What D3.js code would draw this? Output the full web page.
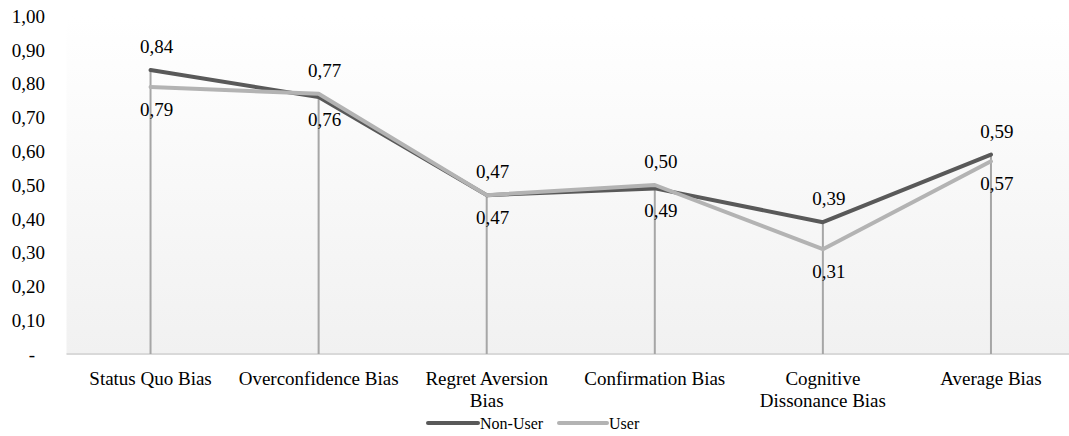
<!DOCTYPE html>
<html>
<head>
<meta charset="utf-8">
<script src="https://cdn.jsdelivr.net/npm/d3@7"></script>
<style>
  html, body { margin: 0; padding: 0; background: #ffffff; }
  svg { display: block; }
  text { font-family: "Liberation Serif", "Tinos", "Times New Roman", "DejaVu Serif", "Noto Serif", serif; fill: #000000; }
</style>
</head>
<body>
<svg id="chart" width="1069" height="436"></svg>
<script>
// Bias scores by investor group
const categories = [
  "Status Quo Bias",
  "Overconfidence Bias",
  "Regret Aversion Bias",
  "Confirmation Bias",
  "Cognitive Dissonance Bias",
  "Average Bias"
];
// Line breaks used for the category axis labels
const categoryLabelLines = [
  ["Status Quo Bias"],
  ["Overconfidence Bias"],
  ["Regret Aversion", "Bias"],
  ["Confirmation Bias"],
  ["Cognitive", "Dissonance Bias"],
  ["Average Bias"]
];
const nonUserValues = [0.84, 0.76, 0.47, 0.49, 0.39, 0.59];
const userValues    = [0.79, 0.77, 0.47, 0.50, 0.31, 0.57];
const seriesNames   = ["Non-User", "User"];
const yTickValues   = [0, 0.1, 0.2, 0.3, 0.4, 0.5, 0.6, 0.7, 0.8, 0.9, 1.0];
const yTickLabels   = ["-", "0,10", "0,20", "0,30", "0,40", "0,50", "0,60", "0,70", "0,80", "0,90", "1,00"];

const W = 1069, H = 436;
const plot = { left: 66.5, right: 1075, top: 16, bottom: 354 };
const colors = { "Non-User": "#595959", "User": "#b3b3b3" };

const svg = d3.select("#chart");

const x = d3.scaleBand().domain(categories).range([plot.left, plot.right]).padding(0);
const y = d3.scaleLinear().domain([0, 1]).range([plot.bottom, plot.top]);
const cx = c => x(c) + x.bandwidth() / 2;

// plot-area fill: white fading to light grey
const defs = svg.append("defs");
const grad = defs.append("linearGradient")
  .attr("id", "plotFill").attr("x1", 0).attr("y1", 0).attr("x2", 0).attr("y2", 1);
grad.append("stop").attr("offset", "0%").attr("stop-color", "#ffffff");
grad.append("stop").attr("offset", "100%").attr("stop-color", "#f1f1f1");

svg.append("rect")
  .attr("x", plot.left).attr("y", plot.top)
  .attr("width", W - plot.left).attr("height", plot.bottom - plot.top)
  .attr("fill", "url(#plotFill)");

// category baseline
svg.append("line")
  .attr("x1", plot.left).attr("x2", W)
  .attr("y1", y(0)).attr("y2", y(0))
  .attr("stroke", "#d9d9d9").attr("stroke-width", 2);

// value axis
const yAxis = d3.axisLeft(y)
  .tickValues(yTickValues)
  .tickFormat((d, i) => yTickLabels[i])
  .tickSize(0).tickPadding(0);
const yg = svg.append("g").attr("transform", "translate(45,0)").call(yAxis);
yg.attr("font-family", null).attr("font-size", null);
yg.select(".domain").remove();
yg.selectAll("text")
  .attr("font-size", 19)
  .attr("fill", "#000")
  .attr("dy", "0.33em")
  .attr("dx", (d, i) => yTickLabels[i] === "-" ? -10 : 0);

// category labels
const xg = svg.append("g");
categories.forEach((c, i) => {
  const t = xg.append("text")
    .attr("x", cx(c)).attr("y", 384.5)
    .attr("text-anchor", "middle")
    .attr("font-size", 19);
  categoryLabelLines[i].forEach((ln, j) => {
    t.append("tspan").attr("x", cx(c)).attr("dy", j === 0 ? 0 : 22).text(ln);
  });
});

const rows = categories.map((c, i) => ({
  cat: c,
  vals: [
    { series: "Non-User", v: nonUserValues[i], order: 0 },
    { series: "User", v: userValues[i], order: 1 }
  ]
}));

// drop lines from the highest point of each category
svg.append("g").selectAll("line")
  .data(rows).join("line")
  .attr("x1", d => cx(d.cat)).attr("x2", d => cx(d.cat))
  .attr("y1", d => y(d3.max(d.vals, v => v.v)))
  .attr("y2", y(0))
  .attr("stroke", "#a6a6a6").attr("stroke-width", 2);

// series lines
const line = d3.line().x(d => cx(d.cat)).y(d => y(d.v));
const seriesData = [
  { name: "Non-User", pts: categories.map((c, i) => ({ cat: c, v: nonUserValues[i] })) },
  { name: "User", pts: categories.map((c, i) => ({ cat: c, v: userValues[i] })) }
];
svg.append("g").selectAll("path")
  .data(seriesData).join("path")
  .attr("d", d => line(d.pts))
  .attr("fill", "none")
  .attr("stroke", d => colors[d.name])
  .attr("stroke-width", 4)
  .attr("stroke-linejoin", "round")
  .attr("stroke-linecap", "round");

// value labels: higher value above its point, lower value below
const fmt = v => d3.format(".2f")(v).replace(".", ",");
const lg = svg.append("g");
rows.forEach(r => {
  const sorted = r.vals.slice().sort((a, b) => (b.v - a.v) || (a.order - b.order));
  sorted.forEach((p, k) => {
    lg.append("text")
      .attr("x", cx(r.cat) + 6)
      .attr("y", y(p.v) + (k === 0 ? -17 : 29))
      .attr("text-anchor", "middle")
      .attr("font-size", 19)
      .text(fmt(p.v));
  });
});

// legend
const legendItems = [
  { name: seriesNames[0], x0: 428, len: 50 },
  { name: seriesNames[1], x0: 559, len: 48 }
];
const leg = svg.append("g");
legendItems.forEach(it => {
  leg.append("line")
    .attr("x1", it.x0).attr("x2", it.x0 + it.len)
    .attr("y1", 423).attr("y2", 423)
    .attr("stroke", colors[it.name]).attr("stroke-width", 4)
    .attr("stroke-linecap", "round");
  leg.append("text")
    .attr("x", it.x0 + it.len + 2).attr("y", 428.5)
    .attr("font-size", 16)
    .text(it.name);
});
</script>
</body>
</html>
